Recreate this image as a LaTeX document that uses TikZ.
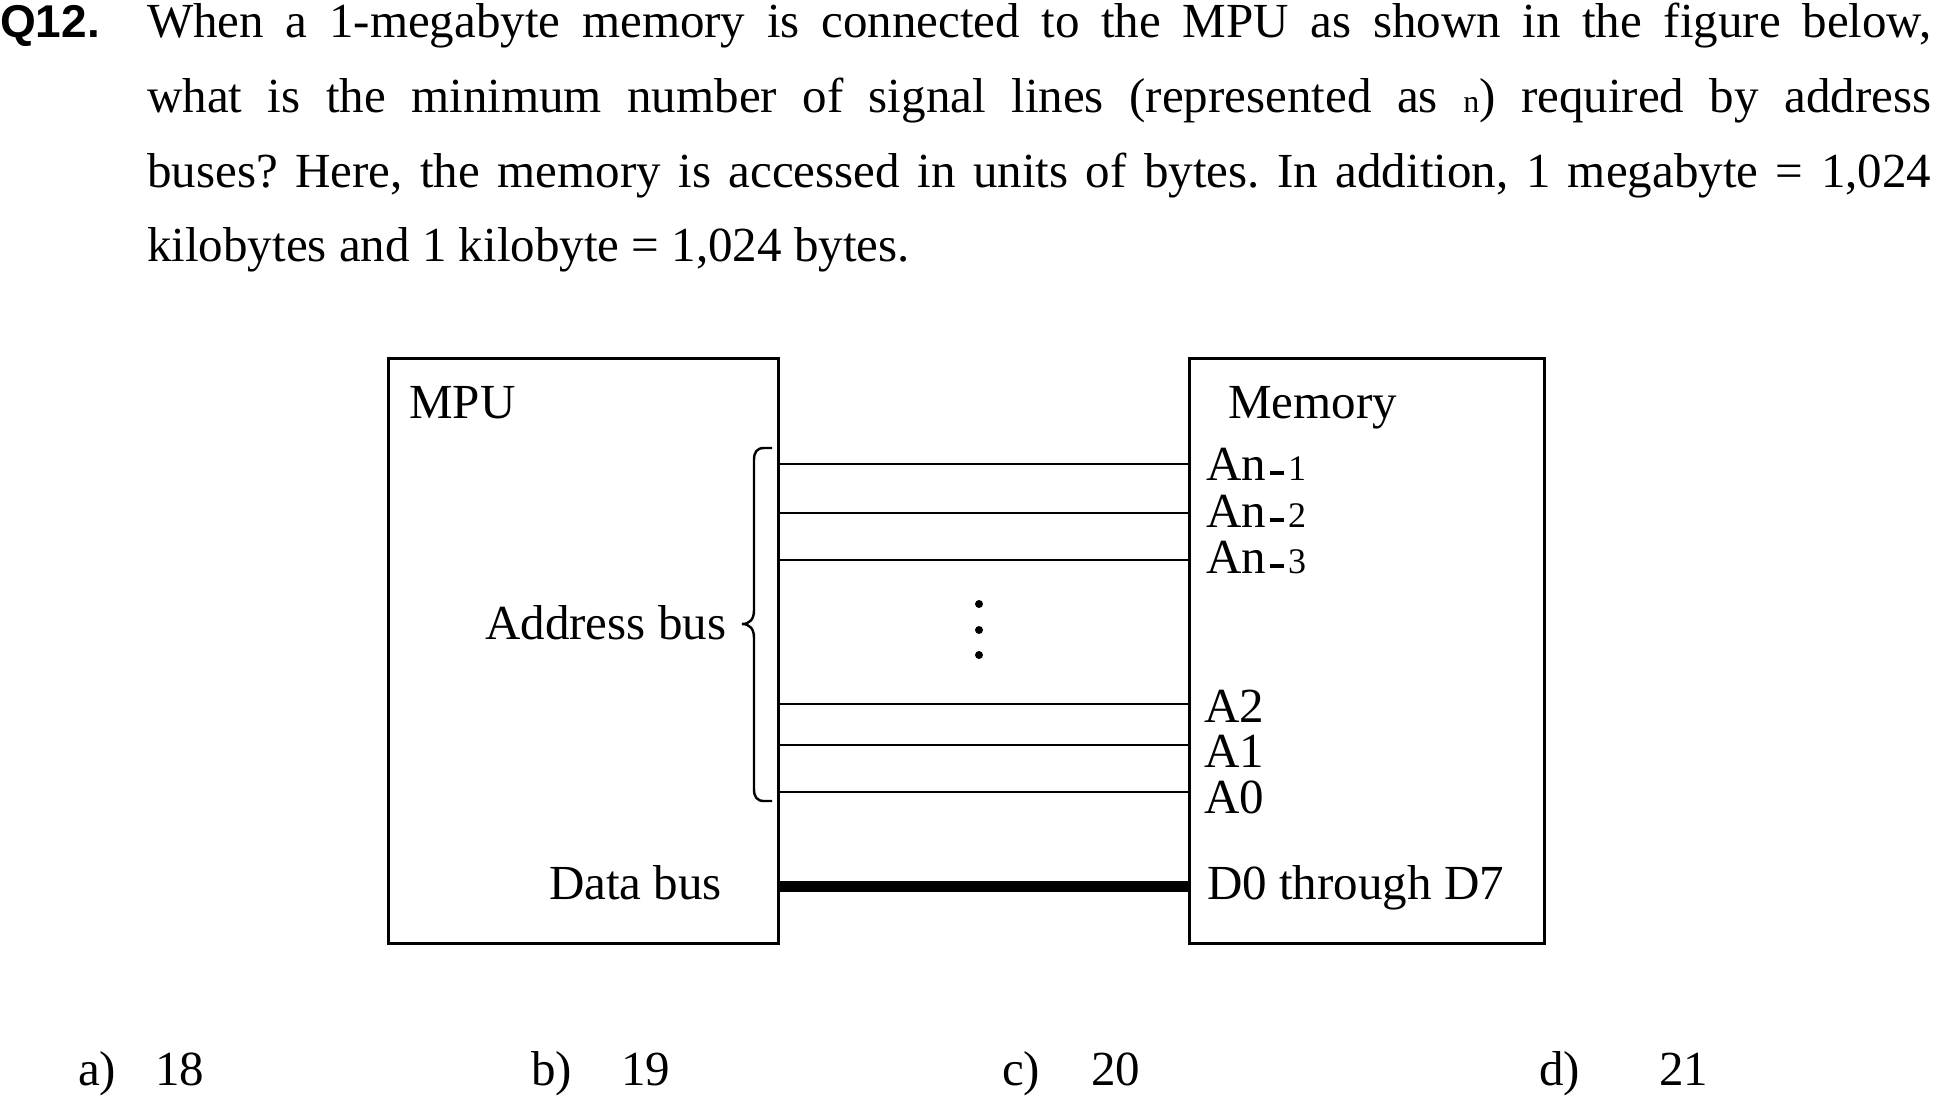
\documentclass[tikz,border=0pt]{standalone}
\usepackage{fontspec}
\setmainfont{Liberation Serif}
\newfontfamily\qnumfont{Liberation Sans}
\frenchspacing
\newcommand{\pindash}{\hspace{4pt}\rule[5pt]{14pt}{4.5pt}\hspace{4pt}}
\begin{document}
\begin{tikzpicture}[x=1pt,y=-1pt,
  txt/.style={anchor=base west, inner sep=0pt, font=\fontsize{49}{58}\selectfont},
  unitbox/.style={draw, line width=3pt, anchor=north west, inner sep=0pt},
  addrline/.style={line width=2.4pt},
  databus/.style={line width=11pt},
  bracepath/.style={line width=2.4pt},
  dotmark/.style={fill=black, draw=none}
]
\useasboundingbox (0,0) rectangle (1933,1096);
\fill[white] (0,0) rectangle (1933,1096);

% question text
\node[txt, font=\qnumfont\bfseries\fontsize{46}{50}\selectfont] (qnum) at (0,37) {Q12.};
\node[txt] (q1) at (147,37) {\makebox[1784pt][s]{When a 1-megabyte memory is connected to the MPU as shown in the figure below,}};
\node[txt] (q2) at (147,112) {\makebox[1784pt][s]{what is the minimum number of signal lines (represented as {\fontsize{32}{32}\selectfont n}) required by address}};
\node[txt] (q3) at (147,187) {\makebox[1784pt][s]{buses? Here, the memory is accessed in units of bytes. In addition, 1 megabyte = 1,024}};
\node[txt] (q4) at (147,261) {kilobytes and 1 kilobyte = 1,024 bytes.};

% boxes
\node[unitbox, minimum width=390pt, minimum height=585pt] (mpu) at (387,357) {};
\node[unitbox, minimum width=355pt, minimum height=585pt] (mem) at (1188,357) {};

% labels in boxes
\node[txt] (mpulbl) at (409,418) {MPU};
\node[txt] (addrlbl) at (485,639) {Address bus};
\node[txt] (datalbl) at (549,899) {Data bus};
\node[txt] (memlbl) at (1228,418) {Memory};
\node[txt] (an1) at (1206,480) {An\pindash{\fontsize{36}{36}\selectfont 1}};
\node[txt] (an2) at (1206,527) {An\pindash{\fontsize{36}{36}\selectfont 2}};
\node[txt] (an3) at (1206,573) {An\pindash{\fontsize{36}{36}\selectfont 3}};
\node[txt] (a2) at (1204,722) {A2};
\node[txt] (a1) at (1204,767) {A1};
\node[txt] (a0) at (1204,813) {A0};
\node[txt] (dlbl) at (1207,899) {D0 through D7};

% pin coordinates on the memory side
\coordinate (w1) at (1188,464);
\coordinate (w2) at (1188,513);
\coordinate (w3) at (1188,560);
\coordinate (w4) at (1188,704);
\coordinate (w5) at (1188,745);
\coordinate (w6) at (1188,792);
\coordinate (wd) at (1188,886);

\foreach \w in {w1,w2,w3,w4,w5,w6}
  \draw[addrline] (mpu.east |- \w) -- (mem.west |- \w);
\draw[databus] (mpu.east |- wd) -- (mem.west |- wd);

% brace
\draw[bracepath] (772,448) -- (764,448) .. controls (757,448) and (754,452) .. (754,460)
  -- (754,610) .. controls (754,619) and (750,624) .. (742,624)
  .. controls (750,624) and (754,629) .. (754,638)
  -- (754,789) .. controls (754,797) and (757,801) .. (764,801) -- (772,801);

% dots
\fill[dotmark] (979,604) circle (4);
\fill[dotmark] (979,630) circle (4);
\fill[dotmark] (979,655) circle (4);

% options
\node[txt] (oa) at (78,1085) {a)};
\node[txt] (va) at (155,1085) {18};
\node[txt] (ob) at (531,1085) {b)};
\node[txt] (vb) at (621,1085) {19};
\node[txt] (oc) at (1002,1085) {c)};
\node[txt] (vc) at (1091,1085) {20};
\node[txt] (od) at (1539,1085) {d)};
\node[txt] (vd) at (1659,1085) {21};
\end{tikzpicture}
\end{document}
